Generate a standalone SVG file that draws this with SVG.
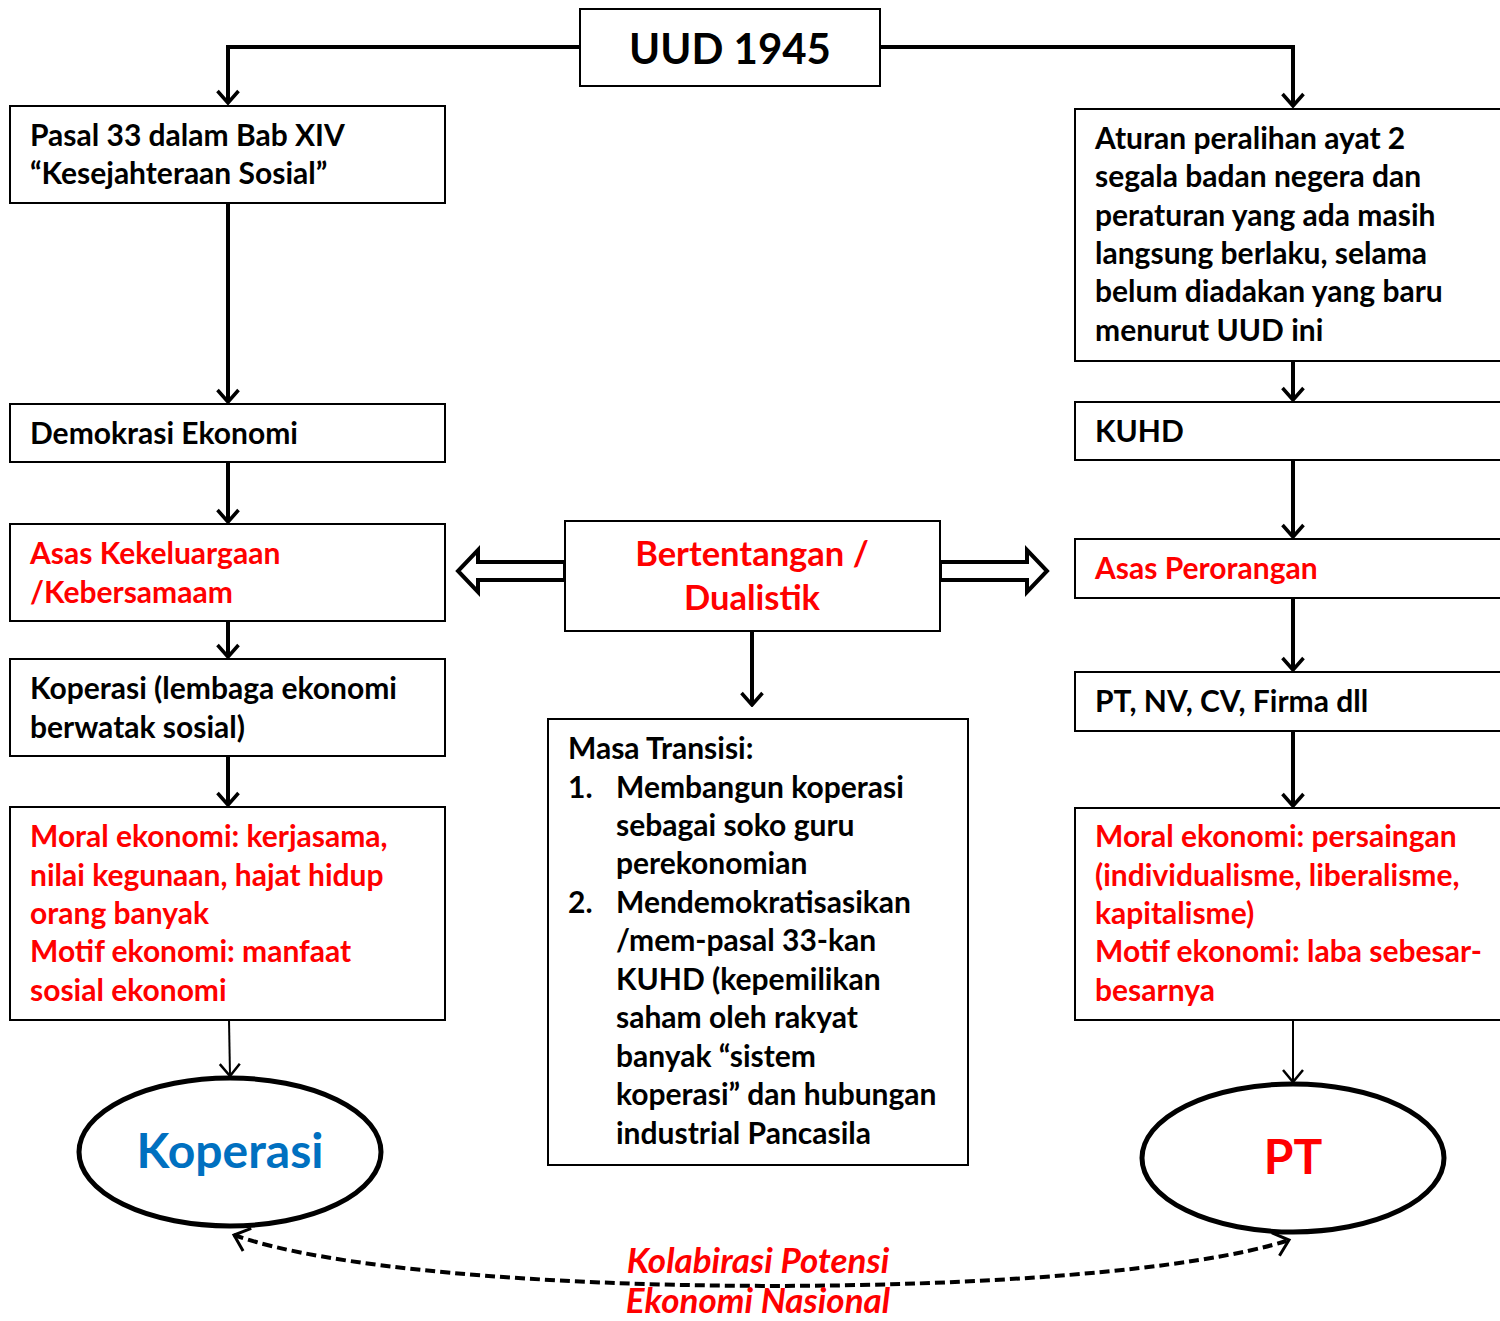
<svg xmlns="http://www.w3.org/2000/svg" width="1500" height="1321" viewBox="0 0 1500 1321">
<style>
.box{fill:#fff;stroke:#000;stroke-width:2}
.t{font-family:Lato,"Open Sans",sans-serif;font-weight:bold;font-size:30px;fill:#000}
.r{fill:#ff0000}
.big{font-size:42px}
.mid{font-size:34.5px}
.ell-t{font-size:48px}
.it{font-size:35px;font-style:italic}
.c{stroke:#000;stroke-width:4;fill:none}
.thin{stroke:#000;stroke-width:2;fill:none}
.ell{fill:#fff;stroke:#000;stroke-width:5}
</style>
<defs>
<marker id="ah" markerWidth="16" markerHeight="26" viewBox="-14 -13 16 26" refX="0" refY="0" orient="auto" markerUnits="userSpaceOnUse">
<path d="M-12,-10.5 L0,0 L-12,10.5" fill="none" stroke="#000" stroke-width="3.5"/>
</marker>
<marker id="ahs" markerWidth="16" markerHeight="26" viewBox="-14 -13 16 26" refX="0" refY="0" orient="auto" markerUnits="userSpaceOnUse">
<path d="M-12,-10 L0,0 L-12,10" fill="none" stroke="#000" stroke-width="2.5"/>
</marker>
<marker id="ahd" markerWidth="20" markerHeight="30" viewBox="-17 -15 20 30" refX="0" refY="0" orient="auto-start-reverse" markerUnits="userSpaceOnUse">
<path d="M-14,-12 L0,0 L-14,12" fill="none" stroke="#000" stroke-width="3"/>
</marker>
</defs>
<g id="connectors">
<path class="c" d="M580,47 H228 V103" marker-end="url(#ah)"/>
<path class="c" d="M880,47 H1293 V106" marker-end="url(#ah)"/>
<path class="c" d="M228,203 V402" marker-end="url(#ah)"/>
<path class="c" d="M228,462 V522" marker-end="url(#ah)"/>
<path class="c" d="M228,621 V657" marker-end="url(#ah)"/>
<path class="c" d="M228,756 V805" marker-end="url(#ah)"/>
<path class="thin" d="M229,1020 L230,1076" marker-end="url(#ahs)"/>
<path class="c" d="M1293,361 V400" marker-end="url(#ah)"/>
<path class="c" d="M1293,460 V537" marker-end="url(#ah)"/>
<path class="c" d="M1293,598 V670" marker-end="url(#ah)"/>
<path class="c" d="M1293,731 V806" marker-end="url(#ah)"/>
<path class="thin" d="M1293,1020 V1082" marker-end="url(#ahs)"/>
<path class="c" d="M752,631 V705" marker-end="url(#ah)"/>
<path d="M565,562 H478 V550 L458,571 L478,592 V580 H565 Z" fill="#fff" stroke="#000" stroke-width="4" stroke-linejoin="miter"/>
<path d="M940,562 H1027 V550 L1047,571 L1027,592 V580 H940 Z" fill="#fff" stroke="#000" stroke-width="4" stroke-linejoin="miter"/>
<path d="M234,1235 C420,1302 1100,1302 1289,1240" fill="none" stroke="#000" stroke-width="4" stroke-dasharray="10,5" marker-start="url(#ahd)" marker-end="url(#ahd)"/>
</g>
<g id="uud">
<rect class="box" x="580" y="9" width="300" height="77"/>
<text class="t big" x="730" y="64" text-anchor="middle">UUD 1945</text>
</g>
<g id="pasal33">
<rect class="box" x="10" y="106" width="435" height="97"/>
<text class="t" x="30" y="146">Pasal 33 dalam Bab XIV</text>
<text class="t" x="30" y="184">“Kesejahteraan Sosial”</text>
</g>
<g id="demokrasi">
<rect class="box" x="10" y="404" width="435" height="58"/>
<text class="t" x="30" y="444">Demokrasi Ekonomi</text>
</g>
<g id="asas-kekeluargaan">
<rect class="box" x="10" y="524" width="435" height="97"/>
<text class="t r" x="30" y="564">Asas Kekeluargaan</text>
<text class="t r" x="30" y="603">/Kebersamaam</text>
</g>
<g id="koperasi-lembaga">
<rect class="box" x="10" y="659" width="435" height="97"/>
<text class="t" x="30" y="699">Koperasi (lembaga ekonomi</text>
<text class="t" x="30" y="738">berwatak sosial)</text>
</g>
<g id="moral-kiri">
<rect class="box" x="10" y="807" width="435" height="213"/>
<text class="t r" x="30" y="847">Moral ekonomi: kerjasama,</text>
<text class="t r" x="30" y="886">nilai kegunaan, hajat hidup</text>
<text class="t r" x="30" y="924">orang banyak</text>
<text class="t r" x="30" y="962">Motif ekonomi: manfaat</text>
<text class="t r" x="30" y="1001">sosial ekonomi</text>
</g>
<g id="koperasi">
<ellipse class="ell" cx="230" cy="1152" rx="151" ry="74"/>
<text class="t ell-t" x="230" y="1168" text-anchor="middle" style="fill:#0070c0">Koperasi</text>
</g>
<g id="aturan">
<rect class="box" x="1075" y="109" width="430" height="252"/>
<text class="t" x="1095" y="149">Aturan peralihan ayat 2</text>
<text class="t" x="1095" y="187">segala badan negera dan</text>
<text class="t" x="1095" y="226">peraturan yang ada masih</text>
<text class="t" x="1095" y="264">langsung berlaku, selama</text>
<text class="t" x="1095" y="302">belum diadakan yang baru</text>
<text class="t" x="1095" y="341">menurut UUD ini</text>
</g>
<g id="kuhd">
<rect class="box" x="1075" y="402" width="430" height="58"/>
<text class="t" x="1095" y="442">KUHD</text>
</g>
<g id="asas-perorangan">
<rect class="box" x="1075" y="539" width="430" height="59"/>
<text class="t r" x="1095" y="579">Asas Perorangan</text>
</g>
<g id="pt-nv">
<rect class="box" x="1075" y="672" width="430" height="59"/>
<text class="t" x="1095" y="712">PT, NV, CV, Firma dll</text>
</g>
<g id="moral-kanan">
<rect class="box" x="1075" y="808" width="430" height="212"/>
<text class="t r" x="1095" y="847">Moral ekonomi: persaingan</text>
<text class="t r" x="1095" y="886">(individualisme, liberalisme,</text>
<text class="t r" x="1095" y="924">kapitalisme)</text>
<text class="t r" x="1095" y="962">Motif ekonomi: laba sebesar-</text>
<text class="t r" x="1095" y="1001">besarnya</text>
</g>
<g id="pt">
<ellipse class="ell" cx="1293" cy="1158" rx="151" ry="74"/>
<text class="t r ell-t" x="1293" y="1174" text-anchor="middle">PT</text>
</g>
<g id="bertentangan">
<rect class="box" x="565" y="521" width="375" height="110"/>
<text class="t r mid" x="752" y="566" text-anchor="middle">Bertentangan /</text>
<text class="t r mid" x="752" y="610" text-anchor="middle">Dualistik</text>
</g>
<g id="masa-transisi">
<rect class="box" x="548" y="719" width="420" height="446"/>
<text class="t" x="568" y="759">Masa Transisi:</text>
<text class="t" x="568" y="798">1.</text>
<text class="t" x="616" y="798">Membangun koperasi</text>
<text class="t" x="616" y="836">sebagai soko guru</text>
<text class="t" x="616" y="874">perekonomian</text>
<text class="t" x="568" y="913">2.</text>
<text class="t" x="616" y="913">Mendemokratisasikan</text>
<text class="t" x="616" y="951">/mem-pasal 33-kan</text>
<text class="t" x="616" y="990">KUHD (kepemilikan</text>
<text class="t" x="616" y="1028">saham oleh rakyat</text>
<text class="t" x="616" y="1067">banyak “sistem</text>
<text class="t" x="616" y="1105">koperasi” dan hubungan</text>
<text class="t" x="616" y="1144">industrial Pancasila</text>
</g>
<g id="kolaborasi">
<text class="t r it" x="758" y="1273" text-anchor="middle">Kolabirasi Potensi</text>
<text class="t r it" x="758" y="1313" text-anchor="middle">Ekonomi Nasional</text>
</g>
</svg>
